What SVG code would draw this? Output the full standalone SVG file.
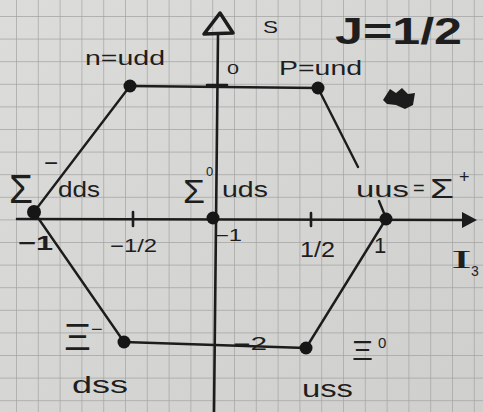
<svg xmlns="http://www.w3.org/2000/svg" width="483" height="412" viewBox="0 0 483 412">
<style>
.ink{stroke:#1c1c1c;stroke-linecap:round;fill:none}
.ax{stroke-width:2.6}
.ln{stroke-width:2.4}
.dot{fill:#161616}
.t{font-family:"Liberation Sans","DejaVu Sans",sans-serif;fill:#1e1e1e}
.g{font-family:"Liberation Sans","DejaVu Sans",sans-serif;fill:#1e1e1e}
</style>
<defs>
<linearGradient id="bg" x1="0" y1="0" x2="1" y2="1">
<stop offset="0" stop-color="#dcdcda"/>
<stop offset="1" stop-color="#cfcfcd"/>
</linearGradient>
<pattern id="grid" x="16" y="16" width="21.8" height="22.6" patternUnits="userSpaceOnUse">
<path d="M0 0V22.6M0 0H21.8" stroke="#a3a3a3" stroke-width="1.4" fill="none"/>
</pattern>
</defs>
<rect width="483" height="412" fill="url(#bg)"/>
<rect width="483" height="412" fill="url(#grid)"/>

<g id="axes">
<path class="ink ax" d="M218 35L214 412"/>
<path d="M220 13L204 34L233 33Z" fill="none" stroke="#1c1c1c" stroke-width="3.5" stroke-linejoin="round"/>
<path class="ink ax" d="M17 219L465 220"/>
<path d="M477 220L462 212L462 228Z" fill="#1c1c1c"/>
<path class="ink ax" d="M207 85L227 85M133 212L133 226M311 213L311 226"/>
</g>

<g id="connectors">
<path class="ink ln" d="M130 86L318 88"/>
<path class="ink ln" d="M318 88L358 167"/>
<path class="ink ln" d="M379 201L386 218"/>
<path class="ink ln" d="M130 86L34 212"/>
<path class="ink ln" d="M34 212L124 342"/>
<path class="ink ln" d="M124 342L306 348"/>
<path class="ink ln" d="M306 348L386 219"/>
</g>

<g id="n">
<circle class="dot" cx="130" cy="86" r="6.5"/>
<text class="t" x="85" y="65" font-size="20" textLength="80" lengthAdjust="spacingAndGlyphs">n=udd</text>
</g>
<g id="p">
<circle class="dot" cx="318" cy="88" r="6.5"/>
<text class="t" x="279" y="75" font-size="20" textLength="83" lengthAdjust="spacingAndGlyphs">P=und</text>
</g>
<g id="sigma-minus">
<circle class="dot" cx="34" cy="212" r="7"/>
<text class="g" x="9" y="203" font-size="40" textLength="24" lengthAdjust="spacingAndGlyphs">Σ</text>
<text class="t" x="44" y="171" font-size="24">−</text>
<text class="t" x="58" y="197" font-size="22" textLength="42" lengthAdjust="spacingAndGlyphs">dds</text>
</g>
<g id="sigma0">
<circle class="dot" cx="213" cy="218" r="6.5"/>
<text class="g" x="183" y="203" font-size="34" textLength="22" lengthAdjust="spacingAndGlyphs">Σ</text>
<text class="t" x="206" y="176" font-size="13">0</text>
<text class="t" x="222" y="197" font-size="22" textLength="46" lengthAdjust="spacingAndGlyphs">uds</text>
</g>
<g id="sigma-plus">
<circle class="dot" cx="386" cy="219" r="6.5"/>
<text class="t" x="356" y="197" font-size="22" textLength="53" lengthAdjust="spacingAndGlyphs">uus</text>
<text class="t" x="413" y="195" font-size="20">=</text>
<text class="g" x="430" y="198" font-size="28" textLength="24" lengthAdjust="spacingAndGlyphs">Σ</text>
<text class="t" x="459" y="183" font-size="18">+</text>
</g>
<g id="xi-minus">
<circle class="dot" cx="124" cy="342" r="6.5"/>
<text class="g" x="64" y="350" font-size="36" textLength="27" lengthAdjust="spacingAndGlyphs">Ξ</text>
<text class="t" x="91" y="336" font-size="20">−</text>
<text class="t" x="72" y="393" font-size="24" textLength="56" lengthAdjust="spacingAndGlyphs">dss</text>
</g>
<g id="xi0">
<circle class="dot" cx="306" cy="348" r="6.5"/>
<text class="g" x="352" y="360" font-size="28" textLength="21" lengthAdjust="spacingAndGlyphs">Ξ</text>
<text class="t" x="378" y="348" font-size="15">0</text>
<text class="t" x="302" y="397" font-size="24" textLength="51" lengthAdjust="spacingAndGlyphs">uss</text>
</g>

<g id="labels">
<text class="t" x="263" y="33" font-size="17" textLength="15" lengthAdjust="spacingAndGlyphs">S</text>
<text class="t" x="335" y="44" font-size="36" font-weight="bold" textLength="127" lengthAdjust="spacingAndGlyphs">J=1/2</text>
<text class="t" x="227" y="74" font-size="14" textLength="12" lengthAdjust="spacingAndGlyphs">0</text>
<text class="t" x="18" y="250" font-size="20" font-weight="bold" textLength="35" lengthAdjust="spacingAndGlyphs">−1</text>
<text class="t" x="110" y="252" font-size="18" textLength="47" lengthAdjust="spacingAndGlyphs">−1/2</text>
<text class="t" x="215" y="241" font-size="16" textLength="27" lengthAdjust="spacingAndGlyphs">−1</text>
<text class="t" x="300" y="257" font-size="22" textLength="35" lengthAdjust="spacingAndGlyphs">1/2</text>
<text class="t" x="374" y="253" font-size="22">1</text>
<text x="451" y="268" font-size="26" font-family="Liberation Serif,serif" fill="#1e1e1e" textLength="21" lengthAdjust="spacingAndGlyphs">I</text>
<text class="t" x="471" y="276" font-size="14">3</text>
<text class="t" x="233" y="350" font-size="18" textLength="34" lengthAdjust="spacingAndGlyphs">−2</text>
<path d="M383 100L390 89L396 93L402 88L408 94L415 93L413 105L405 109L396 105L387 104Z" fill="#1c1c1c"/>
</g>
</svg>
